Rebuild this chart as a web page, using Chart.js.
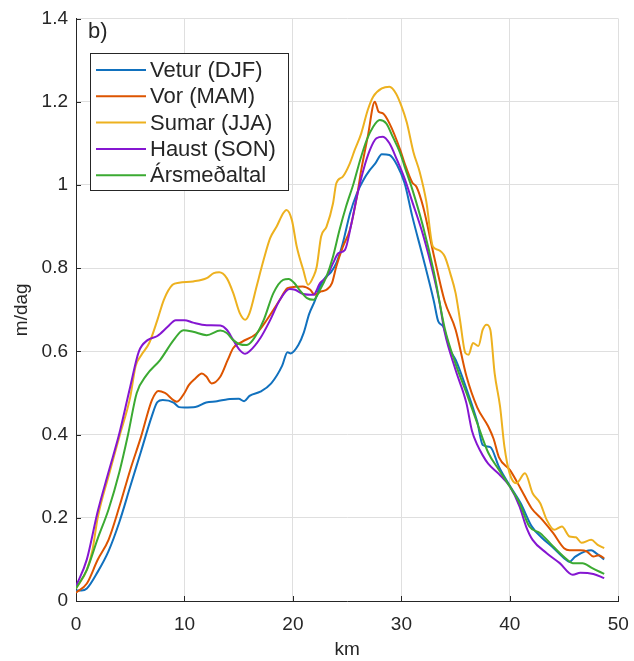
<!DOCTYPE html>
<html>
<head>
<meta charset="utf-8">
<script src="https://cdn.jsdelivr.net/npm/chart.js@4.4.1/dist/chart.umd.min.js"></script>
<style>
html,body{margin:0;padding:0;background:#ffffff;}
#wrap{width:634px;height:661px;position:relative;}
</style>
</head>
<body>
<div id="wrap"><canvas id="c" width="634" height="661"></canvas></div>
<script>
// ---- data ----
const seriesNames = ["Vetur (DJF)", "Vor (MAM)", "Sumar (JJA)", "Haust (SON)", "Ársmeðaltal"];
const seriesColors = ["#1171BE", "#DD5400", "#EDB11F", "#8516D1", "#3BAA32"];

const veturKm  = [0,0.5,1,2,3,4,5,6,7,7.5,8,9,9.5,10,11,12,13,14,15,15.5,16,17,18,19,19.5,19.8,20.5,21,21.5,22,22.5,23,23.5,24,24.6,25.25,25.9,26.5,27.1,27.6,28.2,28.9,29.6,30.3,31,32,33,33.4,33.85,34.5,35,36,37,37.5,38.2,39,40,41,42,43,44,45,45.5,46,47,47.5,48,48.7];
const veturVal = [0.025,0.025,0.03,0.07,0.12,0.19,0.275,0.36,0.445,0.478,0.483,0.477,0.466,0.465,0.466,0.477,0.48,0.485,0.486,0.48,0.493,0.503,0.523,0.565,0.598,0.595,0.615,0.645,0.69,0.72,0.757,0.778,0.79,0.812,0.86,0.93,0.98,1.012,1.036,1.052,1.074,1.072,1.048,1.004,0.925,0.825,0.72,0.672,0.66,0.603,0.58,0.51,0.43,0.375,0.37,0.322,0.277,0.235,0.18,0.151,0.128,0.103,0.094,0.106,0.12,0.122,0.114,0.1];

const vorKm  = [0,1,2,3,4,5,6,7,7.6,8.2,9.3,10,10.4,11,11.6,12,12.5,13.3,14,14.5,15.3,16.6,17.6,18.8,19.5,20.2,20.9,21.6,22,22.6,23.1,23.6,24,24.6,25.25,25.9,26.3,26.9,27.55,27.9,28.3,28.9,29.9,30.3,31,31.4,32,33,34,35,36,37,38,38.5,39,40,41,42,43,44,45,45.5,46.5,47.1,47.7,48.2,48.7];
const vorVal = [0.02,0.042,0.099,0.147,0.227,0.315,0.395,0.483,0.505,0.5,0.479,0.5,0.519,0.535,0.547,0.54,0.523,0.539,0.58,0.608,0.623,0.642,0.676,0.724,0.752,0.755,0.756,0.748,0.736,0.744,0.748,0.764,0.804,0.851,0.892,0.972,1.036,1.116,1.2,1.176,1.172,1.148,1.084,1.052,1.006,0.995,0.948,0.83,0.72,0.652,0.54,0.465,0.42,0.39,0.345,0.315,0.27,0.223,0.195,0.163,0.127,0.122,0.122,0.119,0.107,0.11,0.103];

const sumarKm  = [0,1,1.5,2,3,4,5,5.5,6,6.75,7.5,8.1,8.9,9.5,10.8,12.05,12.7,13.2,13.9,14.5,15.1,15.6,16,16.65,17.3,17.9,18.5,19.1,19.4,19.9,20.35,20.95,21.4,21.9,22.2,22.6,23.1,23.7,24,24.6,25.25,25.7,26.3,26.9,27.4,28.2,28.9,29.5,30,30.5,31.1,31.7,32.3,32.9,33.4,34,34.5,35,35.4,35.9,36.2,36.6,37.1,37.5,37.85,38.2,38.6,39.1,39.5,40,40.6,41.4,42.1,42.8,43.4,44.1,44.8,45.5,46.1,46.6,47.5,48.1,48.7];
const sumarVal = [0.03,0.075,0.12,0.2,0.3,0.395,0.49,0.565,0.59,0.62,0.675,0.724,0.76,0.765,0.768,0.776,0.788,0.79,0.776,0.74,0.692,0.676,0.692,0.756,0.82,0.872,0.9,0.932,0.94,0.916,0.852,0.796,0.76,0.78,0.804,0.876,0.9,0.956,1.004,1.02,1.052,1.084,1.124,1.18,1.212,1.232,1.236,1.22,1.19,1.15,1.08,1.03,0.96,0.852,0.844,0.828,0.788,0.74,0.676,0.596,0.592,0.62,0.613,0.652,0.664,0.652,0.547,0.467,0.371,0.305,0.283,0.307,0.259,0.235,0.195,0.171,0.179,0.155,0.153,0.14,0.147,0.135,0.127];

const haustKm  = [0,1,2,3,4,5,5.8,6.6,7.5,8.45,9.2,10,10.8,12.05,13.3,13.9,14.5,15.1,15.6,16,17,17.9,18.8,19.7,20.2,20.95,21.9,22.5,23.1,23.7,24.2,24.8,25.4,25.9,26.5,27.1,27.7,28.3,28.9,29.6,30.3,31,32,33,33.5,34,35,36,36.5,37,37.5,38,39,40,40.9,41.5,42.1,43.4,44.6,45.8,46.5,47.7,48.7];
const haustVal = [0.035,0.1,0.215,0.31,0.403,0.515,0.6,0.627,0.637,0.659,0.675,0.675,0.669,0.663,0.662,0.652,0.627,0.603,0.594,0.6,0.632,0.675,0.724,0.75,0.748,0.738,0.736,0.764,0.779,0.812,0.836,0.844,0.908,0.972,1.036,1.084,1.112,1.116,1.1,1.06,1.015,0.96,0.88,0.78,0.72,0.645,0.555,0.475,0.41,0.375,0.35,0.33,0.305,0.275,0.227,0.179,0.147,0.115,0.091,0.063,0.068,0.065,0.055];

const arsKm  = [0,1,2,3,4,4.8,5.6,6.5,7.75,9,9.9,10.8,12.05,13.3,13.9,14.5,15.1,15.7,16.3,17.3,18.2,19.1,19.6,20.2,20.6,21.3,21.9,22.5,23.1,23.7,24.3,24.9,25.6,26.2,26.8,27.4,28,28.6,29.2,29.9,30.3,31,32,33,34,35,36,37,38,39,40,40.9,41.8,42.8,44,45.3,45.8,46.7,47.6,48.7];
const arsVal = [0.03,0.075,0.15,0.22,0.31,0.4,0.5,0.543,0.579,0.627,0.651,0.647,0.639,0.65,0.644,0.627,0.617,0.615,0.627,0.675,0.74,0.772,0.774,0.762,0.748,0.728,0.724,0.748,0.78,0.828,0.892,0.948,1.004,1.06,1.108,1.14,1.156,1.148,1.116,1.076,1.044,0.99,0.9,0.79,0.655,0.57,0.5,0.427,0.357,0.315,0.275,0.235,0.179,0.163,0.131,0.099,0.091,0.091,0.079,0.065];

const xTickValues = [0,10,20,30,40,50];
const yTickValues = [0,0.2,0.4,0.6,0.8,1,1.2,1.4];
const xTitle = "km";
const yTitle = "m/dag";
const panelLabel = "b)";

// ---- build ----
const kmSets = [veturKm, vorKm, sumarKm, haustKm, arsKm];
const valSets = [veturVal, vorVal, sumarVal, haustVal, arsVal];
const drawOrder = [4,3,2,1,0];
const FONT = "'Liberation Sans', Arial, Helvetica, sans-serif";
const DARK = "#262626";

const datasets = seriesNames.map((name, i) => ({
  label: name,
  data: kmSets[i].map((k, j) => ({x: k, y: valSets[i][j]})),
  borderColor: seriesColors[i],
  backgroundColor: seriesColors[i],
  borderWidth: 2,
  pointRadius: 0,
  fill: false,
  cubicInterpolationMode: 'monotone',
  order: drawOrder[i]
}));

const decorPlugin = {
  id: 'decor',
  afterDraw(chart) {
    const ctx = chart.ctx;
    const xs = chart.scales.x, ys = chart.scales.y;
    const area = chart.chartArea;
    ctx.save();
    // inward tick marks
    ctx.strokeStyle = DARK;
    ctx.lineWidth = 1;
    ctx.beginPath();
    yTickValues.forEach(v => {
      const y = Math.round(ys.getPixelForValue(v)) + 0.5;
      ctx.moveTo(area.left, y); ctx.lineTo(area.left + 5, y);
    });
    xTickValues.forEach(v => {
      const x = Math.round(xs.getPixelForValue(v)) + 0.5;
      ctx.moveTo(x, area.bottom); ctx.lineTo(x, area.bottom - 5);
    });
    ctx.stroke();
    // panel label
    ctx.fillStyle = DARK;
    ctx.font = "22px " + FONT;
    ctx.textBaseline = 'alphabetic';
    ctx.textAlign = 'left';
    ctx.fillText(panelLabel, 88, 38);
    // legend
    const bx = 90.5, by = 53.5, bw = 198, bh = 137;
    ctx.fillStyle = "#ffffff";
    ctx.fillRect(bx, by, bw, bh);
    ctx.strokeStyle = DARK;
    ctx.lineWidth = 1;
    ctx.strokeRect(bx, by, bw, bh);
    const rowY0 = 70, rowStep = 26.3;
    ctx.font = "22px " + FONT;
    ctx.textBaseline = 'middle';
    chart.data.datasets.forEach((ds, i) => {
      const y = rowY0 + i * rowStep;
      ctx.strokeStyle = ds.borderColor;
      ctx.lineWidth = 2;
      ctx.beginPath();
      ctx.moveTo(96, y); ctx.lineTo(146, y);
      ctx.stroke();
      ctx.fillStyle = DARK;
      ctx.fillText(ds.label, 150, y + 1);
    });
    ctx.restore();
  }
};

new Chart(document.getElementById('c'), {
  type: 'line',
  data: { datasets },
  plugins: [decorPlugin],
  options: {
    responsive: false,
    animation: false,
    devicePixelRatio: 1,
    layout: { padding: { left: 0, top: 18.5, right: 15.7, bottom: 0 } },
    plugins: { legend: { display: false }, tooltip: { enabled: false } },
    scales: {
      x: {
        type: 'linear', min: 0, max: 50,
        afterBuildTicks: s => { s.ticks = xTickValues.map(v => ({value: v})); },
        ticks: { color: DARK, font: { family: FONT, size: 19 }, padding: 12, maxRotation: 0,
                 callback: v => String(v) },
        grid: { color: '#dfdfdf', lineWidth: 1, drawTicks: false },
        border: { color: DARK, width: 1 },
        title: { display: true, text: xTitle, color: DARK, font: { family: FONT, size: 19 }, padding: { top: 0, bottom: 0 } },
        afterFit: s => { s.height = 60; s.paddingLeft = 0; s.paddingRight = 0; }
      },
      y: {
        type: 'linear', min: 0, max: 1.4,
        afterBuildTicks: s => { s.ticks = yTickValues.map(v => ({value: v})); },
        ticks: { color: DARK, font: { family: FONT, size: 19 }, padding: 8,
                 callback: v => String(+(+v).toFixed(1)) },
        grid: { color: '#dfdfdf', lineWidth: 1, drawTicks: false },
        border: { color: DARK, width: 1 },
        title: { display: true, text: yTitle, color: DARK, font: { family: FONT, size: 19 }, padding: { top: 10, bottom: 0 } },
        afterFit: s => { s.width = 76; s.paddingTop = 0; s.paddingBottom = 0; }
      }
    }
  }
});
</script>
</body>
</html>
